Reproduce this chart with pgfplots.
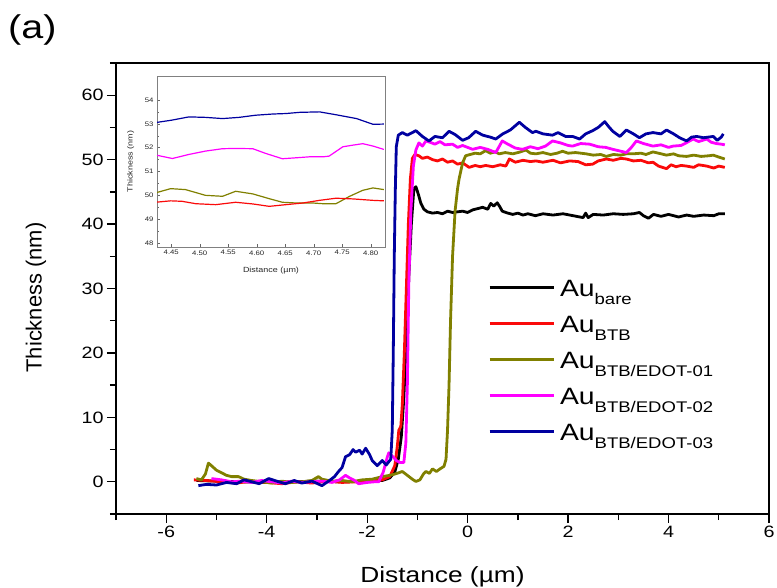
\documentclass[border=0pt]{standalone}
\usepackage{fontspec}
\setmainfont{Liberation Sans}[FakeStretch=1.2]
\newfontfamily\ylabfont{Liberation Sans}
\usepackage{pgfplots}
\pgfplotsset{compat=1.18}

\definecolor{cBare}{RGB}{0,0,0}
\definecolor{cBTB}{RGB}{250,10,10}
\definecolor{cE1}{RGB}{128,128,0}
\definecolor{cE2}{RGB}{255,0,255}
\definecolor{cE3}{RGB}{0,0,160}

\newcommand\sub[1]{\raisebox{-8bp}{\fontsize{15.5}{16}\selectfont #1}}

\begin{document}
\begin{tikzpicture}
\begin{axis}[
    at={(116bp,74bp)}, anchor=south west,
    scale only axis, width=653bp, height=451bp,
    xmin=-7, xmax=6, ymin=-5, ymax=65,
    xtick={-6,-4,...,6}, minor xtick={-7,-5,...,5},
    ytick={0,10,...,60}, minor ytick={-5,5,...,65},
    tick align=outside, xtick pos=bottom, ytick pos=left,
    major tick length=9bp, minor tick length=6bp,
    every tick/.style={black, line width=1.3bp},
    axis line style={line width=1.6bp},
    /pgf/number format/assume math mode=true,
    tick label style={font=\fontsize{16.5}{18}\selectfont},
    xlabel={Distance (µm)}, ylabel={\ylabfont Thickness (nm)},
    label style={font=\fontsize{22}{24}\selectfont},
    xlabel style={at={(axis description cs:0.5,-0.14)}, anchor=center},
    ylabel style={at={(axis description cs:-0.1225,0.48)}, anchor=center, rotate=0},
    legend cell align=left,
    legend style={at={(axis description cs:0.5697,0.539)}, anchor=north west,
        draw=none, fill=none, inner sep=0pt, row sep=4bp,
        font=\fontsize{23.7}{26}\selectfont,
        nodes={inner sep=1bp, text height=24bp, text depth=6bp},
        /tikz/every odd column/.append style={column sep=4bp}},
    legend image code/.code={\draw[#1] (0bp,0bp) -- (64bp,0bp);},
    every axis plot/.append style={line width=2.8bp, line join=round},
]
\addplot[cBare] coordinates {
(-5.4,0.2) (-5.0,0.1) (-4.5,0.0) (-4.0,-0.1) (-3.5,0.0) (-3.0,0.1) (-2.5,0.0) (-2.0,0.1) (-1.7,0.2) (-1.55,0.6) (-1.45,1.5) (-1.38,3.5) (-1.32,7) (-1.27,13) (-1.22,22) (-1.17,32) (-1.12,40) (-1.07,45.5) (-1.03,45.8) (-0.98,44.6) (-0.93,43.2) (-0.87,42.3) (-0.8,41.9) (-0.7,41.7) (-0.6,41.8) (-0.5,41.6) (-0.4,42.0) (-0.3,41.8) (-0.2,41.9) (-0.1,42.0) (0.0,41.8) (0.1,42.2) (0.2,42.4) (0.3,42.6) (0.4,42.3) (0.46,43.2) (0.52,42.8) (0.59,43.3) (0.64,42.7) (0.69,42.0) (0.8,41.7) (0.9,41.5) (1.0,41.7) (1.1,41.4) (1.2,41.6) (1.35,41.3) (1.5,41.6) (1.7,41.4) (1.9,41.6) (2.1,41.3) (2.3,41.0) (2.35,41.7) (2.4,41.0) (2.5,41.5) (2.7,41.4) (2.9,41.6) (3.1,41.5) (3.3,41.6) (3.42,41.8) (3.5,41.3) (3.6,40.9) (3.7,41.5) (3.85,41.2) (4.0,41.5) (4.2,41.1) (4.36,41.4) (4.5,41.2) (4.7,41.4) (4.9,41.3) (5.0,41.6) (5.12,41.6)
};
\addlegendentry{Au\sub{bare}}
\addplot[cBTB] coordinates {
(-5.45,0.3) (-5.2,0.2) (-4.9,0.0) (-4.6,-0.2) (-4.3,0.1) (-4.0,-0.1) (-3.7,-0.3) (-3.4,0.0) (-3.1,-0.2) (-2.8,0.1) (-2.5,-0.1) (-2.2,0.0) (-1.9,0.1) (-1.7,0.3) (-1.55,0.8) (-1.45,2.5) (-1.4,5.5) (-1.37,8.0) (-1.33,8.6) (-1.3,12) (-1.26,20) (-1.22,30) (-1.18,40) (-1.14,47) (-1.1,50.2) (-1.05,50.8) (-0.97,50.6) (-0.9,50.2) (-0.8,50.4) (-0.7,50.0) (-0.6,49.8) (-0.5,50.1) (-0.4,49.6) (-0.3,49.8) (-0.2,49.3) (-0.1,49.5) (0.03,48.8) (0.15,49.1) (0.25,48.9) (0.36,49.1) (0.5,48.9) (0.65,49.2) (0.76,49.0) (0.83,50.1) (0.95,49.6) (1.1,49.9) (1.25,49.7) (1.36,49.8) (1.5,49.6) (1.7,49.9) (1.85,49.5) (2.03,49.8) (2.2,49.7) (2.35,49.2) (2.49,49.3) (2.6,49.8) (2.76,50.1) (2.9,49.9) (3.05,50.2) (3.16,50.1) (3.3,49.8) (3.45,49.9) (3.6,49.5) (3.69,49.6) (3.8,49.0) (3.96,48.6) (4.05,49.2) (4.15,48.9) (4.25,49.1) (4.36,49.0) (4.5,48.8) (4.6,49.2) (4.76,49.0) (4.9,48.7) (5.0,49.0) (5.12,48.8)
};
\addlegendentry{Au\sub{BTB}}
\addplot[cE1] coordinates {
(-5.4,0.5) (-5.3,0.3) (-5.22,1.2) (-5.16,2.9) (-5.1,2.5) (-5.0,1.8) (-4.9,1.4) (-4.8,1.0) (-4.7,0.8) (-4.56,0.8) (-4.45,0.4) (-4.3,0.2) (-4.1,0.0) (-3.9,-0.2) (-3.7,0.1) (-3.5,-0.1) (-3.3,0.0) (-3.1,0.2) (-2.97,0.8) (-2.9,0.4) (-2.7,0.1) (-2.5,0.2) (-2.3,0.0) (-2.1,0.3) (-1.9,0.4) (-1.7,0.8) (-1.55,1.0) (-1.45,1.2) (-1.37,1.4) (-1.3,1.6) (-1.2,1.0) (-1.1,0.4) (-1.03,0.05) (-0.95,0.3) (-0.88,1.2) (-0.83,1.6) (-0.76,1.3) (-0.7,2.0) (-0.62,1.6) (-0.55,2.0) (-0.47,2.4) (-0.43,3.5) (-0.4,8) (-0.37,15) (-0.34,25) (-0.3,35) (-0.25,42) (-0.2,45.5) (-0.17,47) (-0.1,49.5) (-0.04,50.6) (0.05,50.8) (0.15,51.0) (0.25,50.9) (0.36,51.4) (0.45,51.0) (0.55,51.2) (0.63,50.9) (0.75,51.1) (0.9,50.9) (1.05,51.2) (1.16,51.5) (1.25,51.0) (1.36,50.9) (1.5,51.1) (1.65,50.8) (1.78,51.0) (1.89,51.3) (2.0,51.0) (2.15,51.1) (2.36,50.9) (2.5,50.7) (2.65,50.8) (2.76,50.5) (2.9,50.8) (3.05,50.7) (3.16,50.9) (3.29,50.9) (3.45,51.0) (3.55,50.8) (3.69,51.2) (3.8,51.0) (3.96,50.7) (4.1,50.9) (4.2,50.6) (4.36,50.5) (4.5,50.7) (4.65,50.5) (4.8,50.6) (4.89,50.7) (5.0,50.4) (5.12,50.1)
};
\addlegendentry{Au\sub{BTB/EDOT-01}}
\addplot[cE2] coordinates {
(-5.1,0.5) (-4.9,0.3) (-4.7,0.0) (-4.5,0.1) (-4.3,-0.1) (-4.1,0.2) (-3.9,0.0) (-3.7,-0.2) (-3.5,0.1) (-3.3,-0.1) (-3.1,0.0) (-2.9,0.1) (-2.7,-0.1) (-2.55,0.3) (-2.43,1.0) (-2.35,0.6) (-2.25,0.2) (-2.17,-0.3) (-2.0,-0.1) (-1.85,0.0) (-1.77,0.0) (-1.68,1.5) (-1.6,3.8) (-1.57,4.5) (-1.5,4.0) (-1.42,3.3) (-1.35,3.0) (-1.27,3.0) (-1.23,6) (-1.2,15) (-1.17,31) (-1.13,42) (-1.08,49) (-1.03,51.5) (-0.97,52.6) (-0.9,52.1) (-0.83,52.9) (-0.75,52.7) (-0.65,52.4) (-0.55,52.8) (-0.45,52.3) (-0.3,52.4) (-0.2,51.9) (-0.1,52.2) (0.1,51.6) (0.25,51.9) (0.4,51.6) (0.56,51.1) (0.69,52.9) (0.8,52.4) (0.95,51.8) (1.09,51.6) (1.25,52.0) (1.4,51.7) (1.55,52.1) (1.69,52.9) (1.85,52.6) (2.0,52.2) (2.09,52.1) (2.25,52.5) (2.43,52.4) (2.6,52.0) (2.75,51.9) (2.89,51.6) (3.0,51.4) (3.16,51.1) (3.25,51.8) (3.36,52.9) (3.5,52.5) (3.69,52.1) (3.85,52.3) (4.0,51.9) (4.09,52.1) (4.25,52.2) (4.35,52.6) (4.49,53.2) (4.6,52.8) (4.76,53.2) (4.85,52.7) (4.95,52.5) (5.05,52.4) (5.12,52.3)
};
\addlegendentry{Au\sub{BTB/EDOT-02}}
\addplot[cE3] coordinates {
(-5.36,-0.6) (-5.2,-0.4) (-5.0,-0.5) (-4.8,-0.1) (-4.6,-0.3) (-4.45,0.3) (-4.3,0.0) (-4.15,-0.3) (-3.96,0.5) (-3.8,0.1) (-3.63,-0.3) (-3.45,0.2) (-3.3,-0.2) (-3.1,0.1) (-2.9,-0.6) (-2.75,0.2) (-2.65,0.8) (-2.57,1.6) (-2.5,2.2) (-2.43,3.9) (-2.35,4.2) (-2.28,5.0) (-2.23,4.6) (-2.15,4.9) (-2.1,4.3) (-2.03,5.2) (-1.95,4.2) (-1.9,3.3) (-1.8,2.5) (-1.7,3.3) (-1.62,2.6) (-1.53,3.5) (-1.5,8) (-1.48,20) (-1.46,35) (-1.44,45) (-1.42,52) (-1.38,53.8) (-1.3,54.2) (-1.2,53.8) (-1.1,54.2) (-1.03,54.5) (-0.9,53.6) (-0.77,52.9) (-0.65,53.6) (-0.5,53.4) (-0.37,54.4) (-0.25,53.9) (-0.1,53.0) (0.02,53.4) (0.16,54.4) (0.3,53.8) (0.45,53.5) (0.56,53.2) (0.7,54.0) (0.85,54.6) (1.03,55.8) (1.15,55.0) (1.29,54.2) (1.36,54.4) (1.5,54.0) (1.69,53.8) (1.8,54.2) (1.95,53.6) (2.09,53.6) (2.23,53.2) (2.35,54.0) (2.49,54.5) (2.6,55.0) (2.73,55.9) (2.8,55.2) (2.89,54.4) (3.03,53.6) (3.16,54.6) (3.3,54.0) (3.42,53.4) (3.55,54.0) (3.69,54.2) (3.85,54.0) (3.96,54.6) (4.1,54.0) (4.22,53.4) (4.36,52.9) (4.46,53.5) (4.56,53.6) (4.7,53.4) (4.89,53.6) (4.97,53.0) (5.05,53.5) (5.09,54.0)
};
\addlegendentry{Au\sub{BTB/EDOT-03}}
\end{axis}

% inset
\begin{axis}[
    at={(157bp,341bp)}, anchor=south west,
    scale only axis, width=228bp, height=171bp,
    xmin=4.425, xmax=4.825, ymin=47.85, ymax=55,
    axis background/.style={fill=white},
    axis line style={gray, line width=0.8bp},
    xtick={4.45,4.50,...,4.81}, ytick={48,...,54}, minor y tick num=1,
    tick align=inside, xtick pos=bottom, ytick pos=left,
    major tick length=3bp, minor tick length=2bp,
    every tick/.style={gray!80!black, line width=0.5bp},
    /pgf/number format/assume math mode=true,
    /pgf/number format/.cd, fixed, fixed zerofill, precision=2, /pgfplots/.cd,
    yticklabel={\pgfmathprintnumber[fixed, precision=0]{\tick}},
    tick label style={font=\fontsize{6.5}{7}\selectfont, gray!30!black},
    xlabel={Distance (µm)}, ylabel={Thickness (nm)},
    label style={font=\fontsize{7.5}{8}\selectfont, gray!30!black},
    xlabel style={at={(axis description cs:0.5,-0.14)}, anchor=center},
    ylabel style={at={(axis description cs:-0.115,0.5)}, anchor=center},
    every axis plot/.append style={line width=1.2bp},
]
\addplot[cE3] coordinates {(4.422,53.05) (4.45,53.15) (4.481,53.29) (4.510,53.27) (4.540,53.22) (4.569,53.27) (4.598,53.36) (4.628,53.41) (4.651,53.43) (4.675,53.48) (4.710,53.50) (4.739,53.38) (4.775,53.22) (4.804,52.98) (4.823,52.99)};
\addplot[cE2] coordinates {(4.422,51.70) (4.452,51.55) (4.481,51.72) (4.510,51.86) (4.540,51.96) (4.563,51.97) (4.593,51.96) (4.616,51.76) (4.645,51.54) (4.669,51.58) (4.692,51.62) (4.716,51.62) (4.727,51.65) (4.751,52.04) (4.769,52.11) (4.786,52.17) (4.804,52.07) (4.823,51.93)};
\addplot[cE1] coordinates {(4.422,50.11) (4.449,50.29) (4.475,50.25) (4.510,50.01) (4.540,49.97) (4.563,50.18) (4.593,50.07) (4.622,49.87) (4.645,49.72) (4.669,49.69) (4.698,49.69) (4.716,49.66) (4.739,49.66) (4.763,49.97) (4.786,50.22) (4.804,50.32) (4.823,50.25)};
\addplot[cBTB] coordinates {(4.422,49.72) (4.449,49.78) (4.469,49.76) (4.493,49.66) (4.528,49.62) (4.563,49.72) (4.593,49.65) (4.622,49.55) (4.651,49.62) (4.681,49.69) (4.710,49.80) (4.739,49.89) (4.769,49.86) (4.804,49.80) (4.823,49.78)};
\end{axis}

\node[anchor=north west, inner sep=0pt, font=\fontsize{33}{36}\selectfont] at (8bp,574bp) {(a)};
\pgfresetboundingbox
\path[use as bounding box] (0,0) rectangle (777bp,588bp);
\end{tikzpicture}
\end{document}
